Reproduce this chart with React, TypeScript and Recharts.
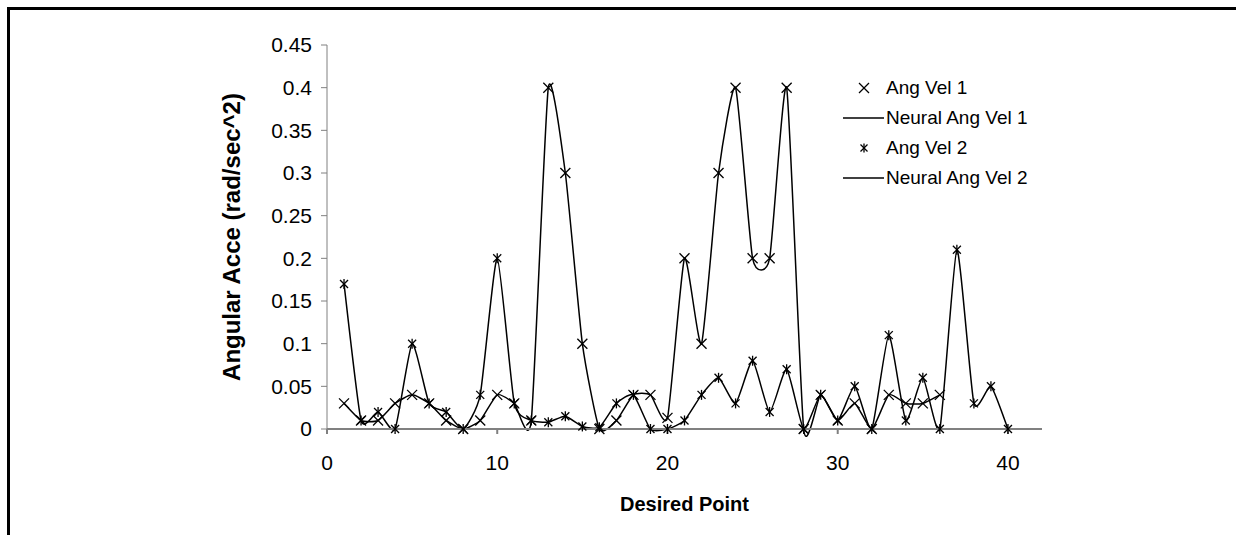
import { LineChart, Line, XAxis, YAxis, Legend, Label } from "recharts";

// Desired point index (x axis)
const desiredPoint = [
  1, 2, 3, 4, 5, 6, 7, 8, 9, 10, 11, 12, 13, 14, 15, 16, 17, 18, 19, 20,
  21, 22, 23, 24, 25, 26, 27, 28, 29, 30, 31, 32, 33, 34, 35, 36, 37, 38, 39, 40,
];

// Ang Vel 1 (x markers), only 36 points
const angVel1 = [
  0.03, 0.01, 0.01, 0.03, 0.04, 0.03, 0.01, 0, 0.01, 0.04,
  0.03, 0.01, 0.4, 0.3, 0.1, 0, 0.01, 0.04, 0.04, 0.013,
  0.2, 0.1, 0.3, 0.4, 0.2, 0.2, 0.4, 0, 0.04, 0.01,
  0.03, 0, 0.04, 0.03, 0.03, 0.04,
];

// Ang Vel 2 (asterisk markers)
const angVel2 = [
  0.17, 0.01, 0.02, 0, 0.1, 0.03, 0.02, 0, 0.04, 0.2,
  0.03, 0.01, 0.008, 0.015, 0.003, 0.002, 0.03, 0.04, 0, 0,
  0.01, 0.04, 0.06, 0.03, 0.08, 0.02, 0.07, 0, 0.04, 0.01,
  0.05, 0, 0.11, 0.01, 0.06, 0, 0.21, 0.03, 0.05, 0,
];

const xTicks = [0, 10, 20, 30, 40];
const yTicks = [0, 0.05, 0.1, 0.15, 0.2, 0.25, 0.3, 0.35, 0.4, 0.45];
const legendOrder = ["Ang Vel 1", "Neural Ang Vel 1", "Ang Vel 2", "Neural Ang Vel 2"];
const legendKinds = ["x", "line", "star", "line"];

const FONT = '"Liberation Sans", Arial, sans-serif';

const chartData = desiredPoint.map((x, i) => ({
  x,
  v1: i < angVel1.length ? angVel1[i] : null,
  v2: angVel2[i],
}));

// excel-like smoothed line through every point (moderate tension)
const SMOOTH = 1 / 11;
const smoothCurve = (context: any) => {
  let xs: number[] = [];
  let ys: number[] = [];
  return {
    areaStart() {},
    areaEnd() {},
    lineStart() {
      xs = [];
      ys = [];
    },
    point(x: number, y: number) {
      xs.push(+x);
      ys.push(+y);
    },
    lineEnd() {
      const n = xs.length;
      if (!n) return;
      context.moveTo(xs[0], ys[0]);
      for (let i = 0; i < n - 1; i++) {
        const p = Math.max(i - 1, 0);
        const q = Math.min(i + 2, n - 1);
        context.bezierCurveTo(
          xs[i] + (xs[i + 1] - xs[p]) * SMOOTH,
          ys[i] + (ys[i + 1] - ys[p]) * SMOOTH,
          xs[i + 1] - (xs[q] - xs[i]) * SMOOTH,
          ys[i + 1] - (ys[q] - ys[i]) * SMOOTH,
          xs[i + 1],
          ys[i + 1]
        );
      }
    },
  };
};

const XMark = ({ cx, cy, r = 5 }: { cx: number; cy: number; r?: number }) => (
  <g stroke="#000" strokeWidth={1.3}>
    <line x1={cx - r} y1={cy - r} x2={cx + r} y2={cy + r} />
    <line x1={cx - r} y1={cy + r} x2={cx + r} y2={cy - r} />
  </g>
);

const StarMark = ({ cx, cy, r = 4 }: { cx: number; cy: number; r?: number }) => (
  <g stroke="#000" strokeWidth={1.3}>
    <line x1={cx - r} y1={cy - r} x2={cx + r} y2={cy + r} />
    <line x1={cx - r} y1={cy + r} x2={cx + r} y2={cy - r} />
    <line x1={cx} y1={cy - r - 1} x2={cx} y2={cy + r + 1} />
  </g>
);

const renderX = (props: any) => {
  const { cx, cy, index } = props;
  if (cy == null || props.value == null) return <g key={`x-${index}`} />;
  return <XMark key={`x-${index}`} cx={cx} cy={cy} />;
};

const renderStar = (props: any) => {
  const { cx, cy, index } = props;
  if (cy == null || props.value == null) return <g key={`s-${index}`} />;
  return <StarMark key={`s-${index}`} cx={cx} cy={cy} />;
};

const renderLegend = (props: any) => {
  const payload = [...(props.payload || [])].sort(
    (a: any, b: any) => legendOrder.indexOf(a.value) - legendOrder.indexOf(b.value)
  );
  return (
    <div style={{ fontFamily: FONT, fontSize: 19, color: "#000" }}>
      {payload.map((entry: any) => {
        const kind = legendKinds[legendOrder.indexOf(entry.value)];
        return (
          <div key={entry.value} style={{ display: "flex", alignItems: "center", height: 30 }}>
            <svg width={46} height={30}>
              {kind === "x" && <XMark cx={26} cy={15} r={5} />}
              {kind === "star" && <StarMark cx={26} cy={15} r={3.5} />}
              {kind === "line" && <line x1={5} y1={15} x2={46} y2={15} stroke="#000" strokeWidth={1.3} />}
            </svg>
            <span style={{ marginLeft: 2 }}>{entry.value}</span>
          </div>
        );
      })}
    </div>
  );
};

const YTitle = (props: any) => {
  const { viewBox } = props;
  const cx = viewBox.x + 14;
  const cy = viewBox.y + viewBox.height / 2;
  return (
    <text
      x={cx}
      y={cy}
      transform={`rotate(-90 ${cx} ${cy})`}
      textAnchor="middle"
      dominantBaseline="central"
      fontFamily={FONT}
      fontSize={24}
      fontWeight="bold"
      fill="#000"
    >
      Angular Acce (rad/sec^2)
    </text>
  );
};

export default function App() {
  return (
    <div style={{ position: "absolute", left: 0, top: 0, width: 1236, height: 535, background: "#fff" }}>
      <div style={{ position: "absolute", left: 7, top: 7, width: 1229, height: 3, background: "#000" }} />
      <div style={{ position: "absolute", left: 7, top: 7, width: 3, height: 528, background: "#000" }} />
      <LineChart
        width={1236}
        height={535}
        data={chartData}
        margin={{ top: 45, right: 194, bottom: 16, left: 217 }}
        style={{ position: "absolute", left: 0, top: 0 }}
      >
        <XAxis
          dataKey="x"
          type="number"
          domain={[0, 42]}
          ticks={xTicks}
          height={90}
          stroke="#808080"
          strokeWidth={2}
          tickSize={5}
          tickMargin={21}
          tick={{ fill: "#000", fontFamily: FONT, fontSize: 21 }}
        >
          <Label
            value="Desired Point"
            position="insideBottom"
            offset={8}
            style={{ fontFamily: FONT, fontSize: 20, fontWeight: "bold", fill: "#000" }}
          />
        </XAxis>
        <YAxis
          type="number"
          domain={[0, 0.45]}
          ticks={yTicks}
          width={110}
          stroke="#808080"
          tickSize={6}
          tickMargin={9}
          tick={{ fill: "#000", fontFamily: FONT, fontSize: 21 }}
        >
          <Label content={<YTitle />} />
        </YAxis>
        <Legend
          layout="vertical"
          align="center"
          verticalAlign="middle"
          content={renderLegend}
          wrapperStyle={{ left: 838, top: 73, width: 220 }}
        />
        <Line
          dataKey="v1"
          name="Ang Vel 1"
          stroke="none"
          dot={renderX}
          activeDot={false}
          isAnimationActive={false}
        />
        <Line
          dataKey="v1"
          name="Neural Ang Vel 1"
          type={smoothCurve as any}
          stroke="#000"
          strokeWidth={1.5}
          dot={false}
          activeDot={false}
          isAnimationActive={false}
        />
        <Line
          dataKey="v2"
          name="Ang Vel 2"
          stroke="none"
          dot={renderStar}
          activeDot={false}
          isAnimationActive={false}
        />
        <Line
          dataKey="v2"
          name="Neural Ang Vel 2"
          type={smoothCurve as any}
          stroke="#000"
          strokeWidth={1.5}
          dot={false}
          activeDot={false}
          isAnimationActive={false}
        />
      </LineChart>
    </div>
  );
}
